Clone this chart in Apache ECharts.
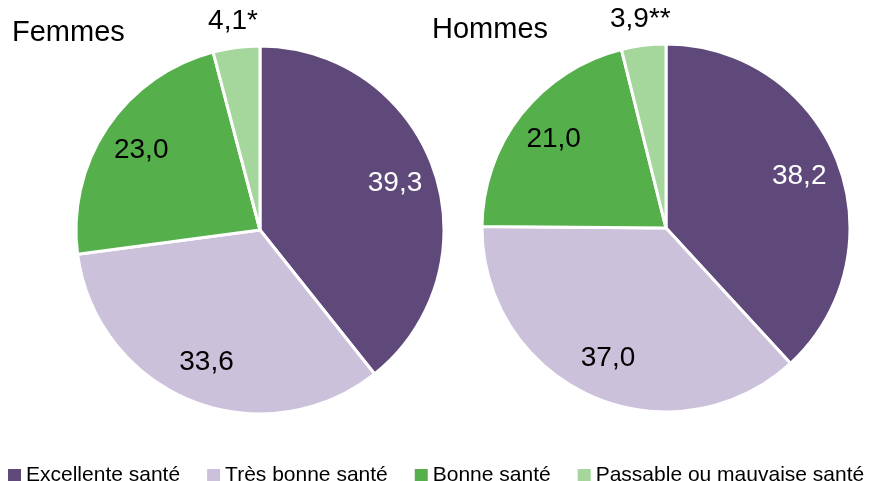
<!DOCTYPE html>
<html>
<head>
<meta charset="utf-8">
<script src="https://cdn.jsdelivr.net/npm/echarts@6/dist/echarts.min.js"></script>
<style>
  html, body { margin: 0; padding: 0; background: #fff; }
  #chart { width: 870px; height: 481px; }
</style>
</head>
<body>
<div id="chart"></div>
<script>
const categories = ['Excellente santé', 'Très bonne santé', 'Bonne santé', 'Passable ou mauvaise santé']
const femmesValues = [39.3, 33.6, 23.0, 4.1]
const hommesValues = [38.2, 37.0, 21.0, 3.9]
const femmesLabels = ['39,3', '33,6', '23,0', '4,1*']
const hommesLabels = ['38,2', '37,0', '21,0', '3,9**']

const colors = ['#5f497a', '#ccc1da', '#55b04c', '#a5d69c']
const labelColors = ['#fff', '#000', '#000', '#000']
const font = 'Liberation Sans, Arial, sans-serif'

const chart = echarts.init(document.getElementById('chart'))

const toData = (values) => values.map((v, i) => ({
  name: categories[i],
  value: v,
  itemStyle: { color: colors[i] }
}))

// the last (small) slice gets its label outside, the others inside
const toLabelData = (values, labels) => values.map((v, i) => {
  const small = i === values.length - 1
  return {
    name: categories[i],
    value: v,
    label: {
      formatter: labels[i],
      color: labelColors[i],
      position: small ? 'outside' : 'inside'
    }
  }
})

const mainPie = (center, values) => ({
  type: 'pie',
  center: center,
  radius: [0, 184],
  startAngle: 90,
  clockwise: true,
  silent: true,
  label: { show: false },
  labelLine: { show: false },
  itemStyle: { borderColor: '#fff', borderWidth: 3 },
  data: toData(values)
})

// transparent ring on top, only used to put the labels further out than r/2
const labelRing = (center, values, labels) => ({
  type: 'pie',
  center: center,
  radius: [96, 184],
  startAngle: 90,
  clockwise: true,
  silent: true,
  itemStyle: { color: 'transparent', borderWidth: 0 },
  label: {
    show: true,
    fontFamily: font,
    fontSize: 28,
    distanceToLabelLine: 0
  },
  labelLine: { show: false, length: 26, length2: 0 },
  labelLayout: (params) => params.dataIndex === values.length - 1 ? { align: 'center' } : {},
  data: toLabelData(values, labels)
})

chart.setOption({
  animation: false,
  title: [
    { text: 'Femmes', left: 12, top: 18, padding: 0,
      textStyle: { fontFamily: font, fontSize: 29, fontWeight: 'normal', color: '#000' } },
    { text: 'Hommes', left: 432, top: 15, padding: 0,
      textStyle: { fontFamily: font, fontSize: 29, fontWeight: 'normal', color: '#000' } }
  ],
  legend: {
    left: 6,
    top: 465,
    padding: 0,
    itemGap: 25,
    itemWidth: 15,
    itemHeight: 15,
    icon: 'rect',
    textStyle: { fontFamily: font, fontSize: 21, color: '#000', padding: [0, 0, 0, -1] },
    data: categories.map((c, i) => ({ name: c, itemStyle: { color: colors[i] } }))
  },
  series: [
    mainPie([260, 230], femmesValues),
    mainPie([666, 228], hommesValues),
    labelRing([260, 230], femmesValues, femmesLabels),
    labelRing([666, 228], hommesValues, hommesLabels)
  ]
})
</script>
</body>
</html>
